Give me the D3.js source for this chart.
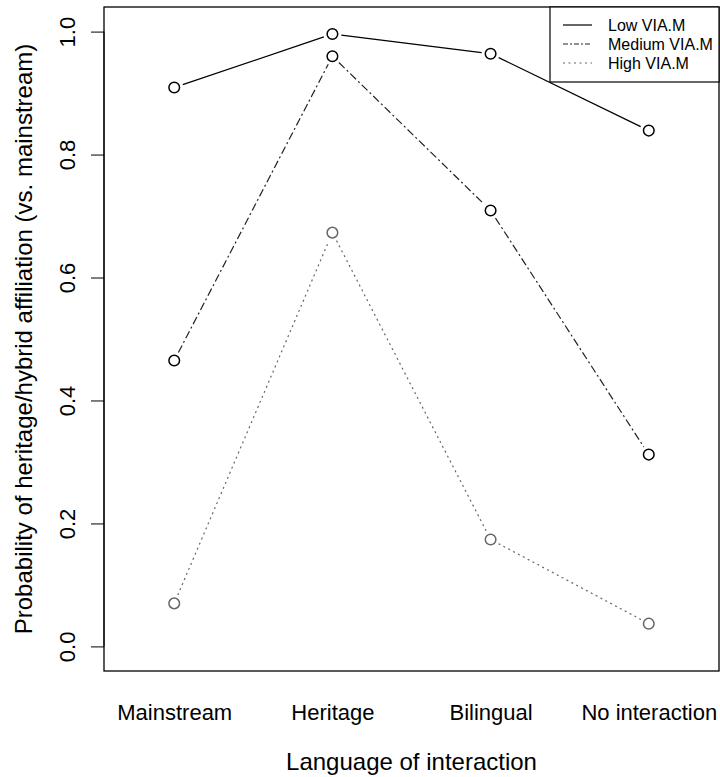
<!DOCTYPE html>
<html><head><meta charset="utf-8">
<script src="https://cdn.jsdelivr.net/npm/d3@7"></script>
<style>body{margin:0;background:#fff}svg{display:block}text{font-family:"Liberation Sans",Arial,sans-serif}</style>
</head><body><div id="chart"></div>
<script>
const categories = ["Mainstream", "Heritage", "Bilingual", "No interaction"];
const lowValues = [0.909, 0.996, 0.964, 0.839];
const mediumValues = [0.465, 0.960, 0.709, 0.312];
const highValues = [0.070, 0.673, 0.174, 0.037];
const yTicks = [0.0, 0.2, 0.4, 0.6, 0.8, 1.0];
const seriesNames = ["Low VIA.M", "Medium VIA.M", "High VIA.M"];

const W = 720, H = 777;
const box = {left: 104, right: 719, top: 7, bottom: 671};
const svg = d3.select("#chart").append("svg").attr("width", W).attr("height", H);

const x = d3.scaleLinear().domain([0.556, 4.444]).range([box.left, box.right]);
const y = d3.scaleLinear().domain([-0.04, 1.04]).range([box.bottom, box.top]);

const series = [
  {name: seriesNames[0], values: lowValues, color: "#000", dash: null, pt: "#000"},
  {name: seriesNames[1], values: mediumValues, color: "#222", dash: "8,3,2,3", pt: "#000"},
  {name: seriesNames[2], values: highValues, color: "#666", dash: "2,3.5", pt: "#666"}
];

// axes
const yAxis = d3.axisLeft(y).tickValues(yTicks).tickFormat(d3.format(".1f")).tickSize(13).tickPadding(0);
const gy = svg.append("g").attr("transform", `translate(${box.left},0)`).call(yAxis);
gy.select(".domain").remove();
gy.selectAll(".tick line").attr("stroke", "#000").attr("stroke-width", 1);
gy.selectAll(".tick text").attr("x", null).attr("dy", null)
  .attr("text-anchor", "middle").attr("font-size", 22).attr("fill", "#000")
  .attr("transform", `translate(-29,0) rotate(-90)`);
svg.append("line").attr("x1", box.left).attr("x2", box.left)
  .attr("y1", y(0)).attr("y2", y(1)).attr("stroke", "#000");

const xAxis = d3.axisBottom(x).tickValues([1,2,3,4]).tickFormat((d,i) => categories[i]).tickSize(0).tickPadding(0);
const gx = svg.append("g").attr("transform", `translate(0,${box.bottom})`).call(xAxis);
gx.select(".domain").remove();
gx.selectAll(".tick text").attr("y", 49).attr("dy", null).attr("font-size", 22).attr("fill", "#000");

svg.append("rect").attr("x", box.left).attr("y", box.top)
  .attr("width", box.right - box.left).attr("height", box.bottom - box.top)
  .attr("fill", "none").attr("stroke", "#000").attr("stroke-width", 1.3);

svg.append("text").attr("x", (box.left + box.right) / 2).attr("y", 770)
  .attr("text-anchor", "middle").attr("font-size", 24).text("Language of interaction");
svg.append("text").attr("transform", `translate(32,${(box.top + box.bottom) / 2}) rotate(-90)`)
  .attr("text-anchor", "middle").attr("font-size", 24)
  .text("Probability of heritage/hybrid affiliation (vs. mainstream)");

// lines with gaps around points (type="b")
const gap = 9;
series.forEach(s => {
  const pts = s.values.map((v, i) => [x(i + 1), y(v)]);
  for (let i = 0; i < pts.length - 1; i++) {
    const [x1, y1] = pts[i], [x2, y2] = pts[i + 1];
    const len = Math.hypot(x2 - x1, y2 - y1);
    const ux = (x2 - x1) / len, uy = (y2 - y1) / len;
    svg.append("line")
      .attr("x1", x1 + ux * gap).attr("y1", y1 + uy * gap)
      .attr("x2", x2 - ux * gap).attr("y2", y2 - uy * gap)
      .attr("stroke", s.color).attr("stroke-width", 1.2)
      .attr("stroke-dasharray", s.dash);
  }
  svg.selectAll(null).data(s.values).enter().append("circle")
    .attr("cx", (d, i) => x(i + 1)).attr("cy", d => y(d)).attr("r", 5.3)
    .attr("fill", "none").attr("stroke", s.pt).attr("stroke-width", 1.5);
});

// legend
const lg = svg.append("g");
lg.append("rect").attr("x", 550).attr("y", box.top).attr("width", box.right - 550).attr("height", 75)
  .attr("fill", "#fff").attr("stroke", "#000").attr("stroke-width", 1.2);
series.forEach((s, i) => {
  const yy = 25 + i * 19;
  lg.append("line").attr("x1", 563).attr("x2", 592).attr("y1", yy).attr("y2", yy)
    .attr("stroke", s.color).attr("stroke-width", 1.2).attr("stroke-dasharray", i === 1 ? "5,2,2,2" : s.dash);
  lg.append("text").attr("x", 608).attr("y", yy + 6).attr("font-size", 16).text(s.name);
});
</script></body></html>
